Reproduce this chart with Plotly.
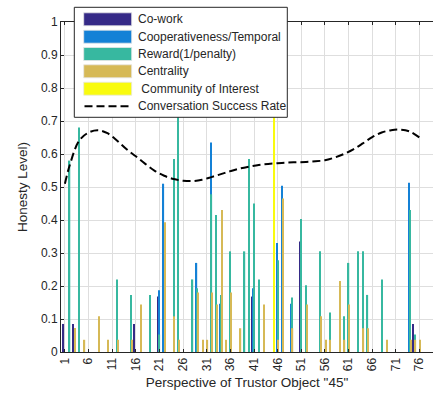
import plotly.graph_objects as go

# ---------------- data ----------------
objects = list(range(1, 77))
tick_vals = [1, 6, 11, 16, 21, 26, 31, 36, 41, 46, 51, 56, 61, 66, 71, 76]
y_ticks = [0, 0.1, 0.2, 0.3, 0.4, 0.5, 0.6, 0.7, 0.8, 0.9, 1]

co_work = [0.0] * 76
for k, v in {1: 0.085, 3: 0.085, 16: 0.085, 21: 0.168, 41: 0.168, 51: 0.335, 75: 0.085}.items():
    co_work[k - 1] = v

cooperativeness = [0.0] * 76
for k, v in {21: 0.187, 22: 0.51, 29: 0.27, 32: 0.635, 34: 0.146, 41: 0.193, 46: 0.33,
             47: 0.504, 49: 0.146, 65: 0.082, 74: 0.513}.items():
    cooperativeness[k - 1] = v

reward = [0.0] * 76
for k, v in {2: 0.58, 4: 0.68, 12: 0.22, 15: 0.173, 19: 0.173, 21: 0.053, 24: 0.585, 25: 0.75,
             28: 0.22, 29: 0.193, 32: 0.478, 33: 0.415, 34: 0.173, 36: 0.305, 39: 0.305,
             40: 0.585, 41: 0.45, 42: 0.22, 46: 0.278, 49: 0.165, 51: 0.403, 52: 0.202,
             55: 0.305, 57: 0.12, 60: 0.108, 61: 0.27, 63: 0.305, 64: 0.305, 65: 0.173,
             68: 0.22, 74: 0.43, 75: 0.053}.items():
    reward[k - 1] = v

centrality = [0.0] * 76
for k, v in {3: 0.073, 5: 0.037, 8: 0.108, 10: 0.037, 12: 0.037, 15: 0.037, 17: 0.144,
             22: 0.393, 24: 0.108, 25: 0.037, 29: 0.18, 30: 0.037, 31: 0.037, 32: 0.18,
             33: 0.144, 34: 0.43, 35: 0.037, 36: 0.18, 38: 0.072, 43: 0.144, 46: 0.037,
             47: 0.465, 49: 0.072, 52: 0.144, 55: 0.108, 56: 0.037, 57: 0.037, 59: 0.215,
             60: 0.037, 61: 0.144, 64: 0.072, 65: 0.072, 69: 0.037, 74: 0.037, 75: 0.037,
             76: 0.037}.items():
    centrality[k - 1] = v

community = [0.0] * 76
community[45 - 1] = 1.0

rate_x = [1, 2, 4, 6, 8, 10, 12, 14, 16, 18, 20, 22, 24, 26, 28, 30, 32, 34, 36, 38,
          40, 42, 44, 46, 48, 50, 52, 54, 56, 58, 60, 62, 64, 66, 68, 70, 72, 74, 76]
rate_y = [0.51, 0.565, 0.64, 0.665, 0.672, 0.663, 0.641, 0.615, 0.593, 0.570, 0.549,
          0.534, 0.524, 0.519, 0.518, 0.522, 0.530, 0.539, 0.548, 0.556, 0.562, 0.567,
          0.570, 0.572, 0.574, 0.575, 0.576, 0.578, 0.581, 0.589, 0.600, 0.614, 0.632,
          0.651, 0.665, 0.672, 0.674, 0.668, 0.650]

names = ["Co-work", "Cooperativeness/Temporal", "Reward(1/penalty)", "Centrality",
         " Community of Interest"]
series = [co_work, cooperativeness, reward, centrality, community]
colors = ["#352A87", "#1481D6", "#37B8A0", "#D6B956", "#F9FB0E"]

# ---------------- figure ----------------
W, H = 433, 394
L, T, B = 61, 22, 42
plot_w = W - L
plot_h = H - T - B
px_per_unit = 4.728
x_min = 1 - 3.9 / px_per_unit
x_max = x_min + plot_w / px_per_unit

fig = go.Figure()
step = 0.154
bw = 0.27
for i, (nm, vals, col) in enumerate(zip(names, series, colors)):
    fig.add_trace(go.Bar(
        x=objects, y=vals, name=nm, marker=dict(color=col, line=dict(width=0)),
        width=bw, offset=(i - 2) * step - bw / 2, showlegend=False))

fig.add_trace(go.Scatter(
    x=rate_x, y=rate_y, mode="lines", line=dict(color="black", width=2, dash="8px,4px",
                                                 shape="spline", smoothing=1.0),
    name="Conversation Success Rate", showlegend=False))

axis_col = "#262626"
font_fam = "Liberation Sans, Arial, sans-serif"

fig.update_layout(
    width=W, height=H, margin=dict(l=L, r=0, t=T, b=B),
    paper_bgcolor="white", plot_bgcolor="white", barmode="overlay",
    font=dict(family=font_fam, size=12, color=axis_col),
    xaxis=dict(range=[x_min, x_max], tickvals=tick_vals, tickangle=-90,
               ticks="inside", ticklen=3, tickcolor=axis_col, showline=True,
               linecolor=axis_col, linewidth=1, mirror="ticks",
               showgrid=True, gridcolor="#DEDEDE", gridwidth=1, zeroline=False,
               tickfont=dict(size=12), title=dict(text='Perspective of Trustor Object "45"',
                                                  font=dict(size=13.5), standoff=7)),
    yaxis=dict(range=[0, 1], tickvals=y_ticks, ticktext=[("%g" % v) for v in y_ticks],
               ticks="inside", ticklen=3, tickcolor=axis_col, showline=True,
               linecolor=axis_col, linewidth=1, mirror=False,
               showgrid=True, gridcolor="#DEDEDE", gridwidth=1, zeroline=False,
               tickfont=dict(size=12), title=dict(text="Honesty Level)",
                                                  font=dict(size=13.5), standoff=10)),
)

# ---------------- manual legend ----------------
def xp(px):
    return (px - L) / plot_w

def yp(py):
    return (H - B - py) / plot_h

shapes = [dict(type="rect", xref="paper", yref="paper", x0=xp(74.3), x1=xp(287.3),
               y0=yp(117.3), y1=yp(7.3), fillcolor="white",
               line=dict(color=axis_col, width=1), layer="above")]
row_c = [19.3, 36.7, 54.0, 71.3, 88.7, 106.3]
annots = []
for i, (nm, col) in enumerate(zip(names, colors)):
    c = row_c[i]
    shapes.append(dict(type="rect", xref="paper", yref="paper", x0=xp(83.7), x1=xp(131.7),
                       y0=yp(c + 6.5), y1=yp(c - 6.5), fillcolor=col,
                       line=dict(color="#E6E6E6", width=0.8), layer="above"))
shapes.append(dict(type="line", xref="paper", yref="paper", x0=xp(84.5), x1=xp(131.7),
                   y0=yp(row_c[5]), y1=yp(row_c[5]),
                   line=dict(color="black", width=2, dash="8px,4px"), layer="above"))
legend_labels = names + ["Conversation Success Rate"]
for i, lab in enumerate(legend_labels):
    annots.append(dict(xref="paper", yref="paper", x=xp(135.5), y=yp(row_c[i]),
                       text=lab.replace(" ", "&nbsp;", 1) if lab.startswith(" ") else lab,
                       showarrow=False, xanchor="left", yanchor="middle",
                       font=dict(family=font_fam, size=12, color=axis_col)))
fig.update_layout(shapes=shapes, annotations=annots)

fig.write_html("out.html")
